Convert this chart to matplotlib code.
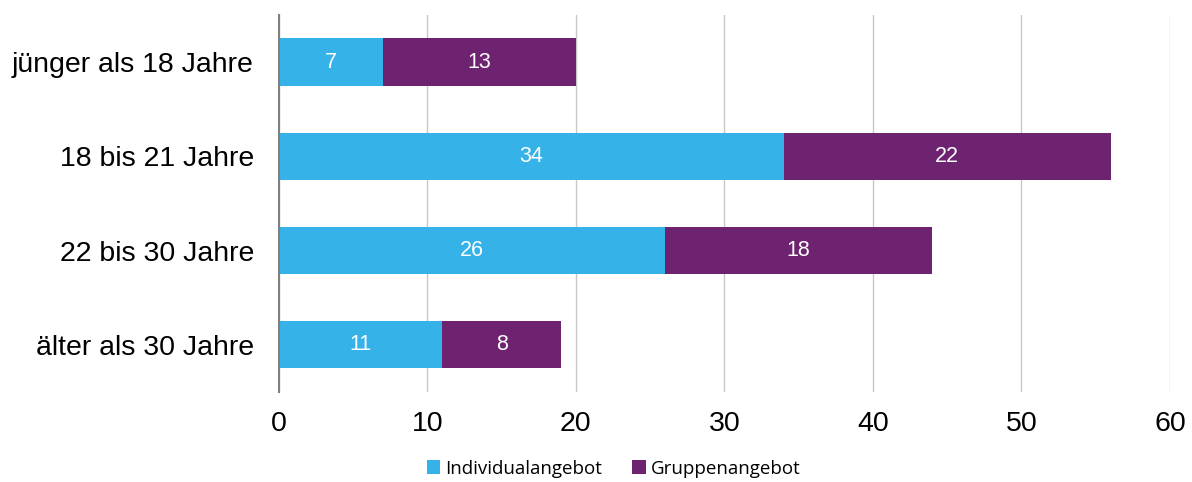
import numpy as np
import matplotlib.pyplot as plt

categories = ['jünger als 18 Jahre', '18 bis 21 Jahre', '22 bis 30 Jahre', 'älter als 30 Jahre']
individual = [7, 34, 26, 11]
gruppe = [13, 22, 18, 8]

blue = '#35B2E8'
purple = '#6E2370'

plt.rcParams['font.family'] = ['Liberation Sans', 'DejaVu Sans']

fig = plt.figure(figsize=(11.92, 4.82), dpi=100)
ax = fig.add_axes([0.234, 0.187, 0.7475, 0.782])

y = np.arange(len(categories))
b1 = ax.barh(y, individual, height=0.5, color=blue, label='Individualangebot')
b2 = ax.barh(y, gruppe, left=individual, height=0.5, color=purple, label='Gruppenangebot')

for bars, vals, lefts in [(b1, individual, [0] * 4), (b2, gruppe, individual)]:
    for yi, v, l in zip(y, vals, lefts):
        ax.text(l + v / 2, yi, str(v), ha='center', va='center', color='white', fontsize=15.5)

ax.set_xlim(0, 60)
ax.set_ylim(3.5, -0.5)
ax.set_yticks(y)
ax.set_yticklabels(categories)
ax.set_xticks(range(0, 61, 10))
ax.tick_params(axis='y', length=0, pad=18, labelsize=20.5)
ax.tick_params(axis='x', length=0, pad=14, labelsize=20.5)
ax.xaxis.grid(True, color='#C8C8C8', linewidth=1)
ax.set_axisbelow(True)
for s in ['top', 'right', 'bottom']:
    ax.spines[s].set_visible(False)
ax.spines['left'].set_color('#808080')
ax.spines['left'].set_linewidth(1.5)

fig.legend(handles=[b1, b2], loc='center', bbox_to_anchor=(0.515, 0.028), ncol=2,
           frameon=False, prop={'family': 'Open Sans', 'size': 13.5},
           handlelength=0.7, handleheight=0.7, handletextpad=0.3, columnspacing=1.6)

fig.savefig('out.png', dpi=100)
